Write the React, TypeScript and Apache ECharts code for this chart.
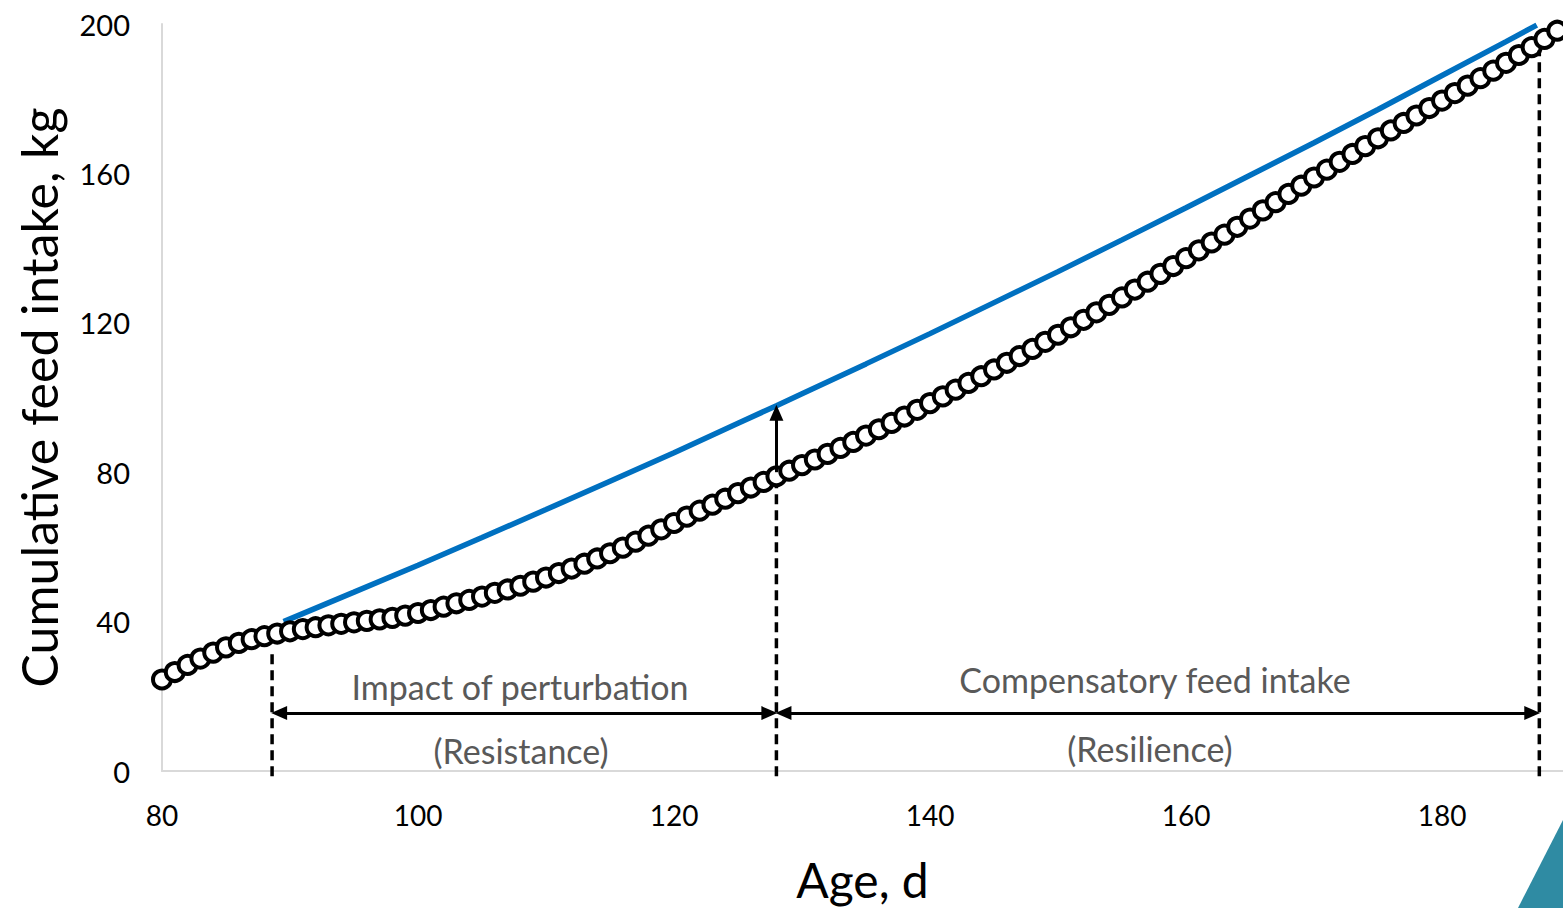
import React, { useEffect, useRef } from "react";
import * as echarts from "echarts";

// Age (days) of each observed cumulative feed intake record
const ages = [
  80, 81, 82, 83, 84, 85, 86, 87, 88, 89, 90, 91, 92, 93, 94, 95, 96, 97, 98, 99,
  100, 101, 102, 103, 104, 105, 106, 107, 108, 109, 110, 111, 112, 113, 114, 115, 116, 117, 118, 119,
  120, 121, 122, 123, 124, 125, 126, 127, 128, 129, 130, 131, 132, 133, 134, 135, 136, 137, 138, 139,
  140, 141, 142, 143, 144, 145, 146, 147, 148, 149, 150, 151, 152, 153, 154, 155, 156, 157, 158, 159,
  160, 161, 162, 163, 164, 165, 166, 167, 168, 169, 170, 171, 172, 173, 174, 175, 176, 177, 178, 179,
  180, 181, 182, 183, 184, 185, 186, 187, 188, 189,
];

// Observed cumulative feed intake, kg
const observedIntake = [
  24.5, 26.5, 28.4, 30.1, 31.7, 33.1, 34.3, 35.3, 36.1, 36.8, 37.4, 38.0, 38.5, 39.0, 39.4, 39.8, 40.2, 40.6, 41.0, 41.6,
  42.3, 43.1, 44.0, 44.9, 45.8, 46.7, 47.7, 48.6, 49.6, 50.7, 51.8, 53.0, 54.2, 55.5, 56.9, 58.3, 59.8, 61.4, 63.0, 64.7,
  66.4, 68.1, 69.7, 71.3, 72.9, 74.4, 75.9, 77.4, 78.9, 80.4, 81.9, 83.4, 84.9, 86.5, 88.1, 89.8, 91.5, 93.2, 94.9, 96.7,
  98.5, 100.3, 102.1, 103.9, 105.7, 107.5, 109.3, 111.1, 113.0, 114.9, 116.8, 118.8, 120.8, 122.8, 124.8, 126.8, 128.9, 131.0, 133.1, 135.2,
  137.3, 139.4, 141.5, 143.6, 145.7, 147.9, 150.1, 152.3, 154.5, 156.7, 158.9, 161.0, 163.1, 165.2, 167.3, 169.4, 171.5, 173.5, 175.5, 177.5,
  179.5, 181.5, 183.5, 185.5, 187.5, 189.6, 191.7, 193.8, 196.0, 198.2,
];

// Expected (unperturbed) cumulative feed intake curve
const expectedAges = [89.5, 95, 100, 105, 110, 115, 120, 125, 128, 130, 135, 140, 145, 150, 155, 160, 165, 170, 175, 180, 185, 187.4];
const expectedIntake = [40, 47.9, 55.1, 62.5, 70.0, 77.6, 85.2, 93.1, 97.8, 101.0, 109.0, 117.1, 125.4, 133.7, 142.2, 150.8, 159.5, 168.2, 177.1, 186.2, 195.3, 199.7];

// Phase boundaries (age, d): start of perturbation, end of perturbation, end of recovery
const phaseBounds = [88.6, 128, 187.6];
// Observed intake where the dashed boundary lines start
const boundTops = [32, 77, 193];
const boundBottom = -1.4;
const arrowLevel = 15.5;
const deviationAge = 128;
const deviationFrom = 80;
const deviationTo = 97.8;

const xTickValues = [80, 100, 120, 140, 160, 180];
const phaseTexts = ["Impact of perturbation", "(Resistance)", "Compensatory feed intake", "(Resilience)"];

const FONT = "Lato, 'Open Sans', sans-serif";

export default function App() {
  const ref = useRef<HTMLDivElement>(null);

  useEffect(() => {
    if (!ref.current) return;
    const chart = echarts.init(ref.current, undefined, { renderer: "svg" });

    const arrowStyle = { type: "solid" as any, color: "#000", width: 3 };
    const tipX = 0.55; // arrow tip half-length in days
    const tipY = 1.9; // arrow tip half-length in kg

    const markData: any[] = [
      [
        { coord: [phaseBounds[0] + tipX, arrowLevel], symbol: "triangle", lineStyle: arrowStyle },
        { coord: [phaseBounds[1] - tipX, arrowLevel], symbol: "triangle" },
      ],
      [
        { coord: [phaseBounds[1] + tipX, arrowLevel], symbol: "triangle", lineStyle: arrowStyle },
        { coord: [phaseBounds[2] - tipX, arrowLevel], symbol: "triangle" },
      ],
      [
        { coord: [deviationAge, deviationFrom], symbol: "none", lineStyle: arrowStyle },
        { coord: [deviationAge, deviationTo - tipY], symbol: "triangle" },
      ],
    ];

    const dashedSeries = phaseBounds.map((b, i) => ({
      name: "bound" + i,
      type: "line",
      data: [
        [b, boundBottom],
        [b, boundTops[i]],
      ],
      symbol: "none",
      showSymbol: false,
      clip: false,
      silent: true,
      lineStyle: { type: [10, 6], color: "#000", width: 3.5 },
      z: 4,
    }));

    chart.setOption({
      animation: false,
      backgroundColor: "#fff",
      textStyle: { fontFamily: FONT },
      grid: { left: 162, top: 24, right: 0, bottom: 135, containLabel: false },
      xAxis: {
        type: "value",
        min: 80,
        max: 189.45,
        interval: 20,
        axisLine: { show: true, lineStyle: { color: "#d9d9d9", width: 2 } },
        axisTick: { show: false },
        splitLine: { show: false },
        axisLabel: {
          fontSize: 28,
          color: "#000",
          margin: 30,
          fontFamily: FONT,
          showMaxLabel: false,
          formatter: (v: number) => (xTickValues.indexOf(v) >= 0 ? String(v) : ""),
        },
        name: "Age, d",
        nameLocation: "middle",
        nameGap: 84,
        nameTextStyle: { fontSize: 48, color: "#000", fontFamily: FONT },
      },
      yAxis: {
        type: "value",
        min: 0,
        max: 200,
        interval: 40,
        axisLine: { show: true, lineStyle: { color: "#d9d9d9", width: 2 } },
        axisTick: { show: false },
        splitLine: { show: false },
        axisLabel: { fontSize: 29, color: "#000", margin: 32, fontFamily: FONT },
        name: "Cumulative feed intake, kg",
        nameLocation: "middle",
        nameGap: 98,
        nameTextStyle: { fontSize: 50, color: "#000", fontFamily: FONT },
      },
      series: [
        {
          name: "Expected",
          type: "line",
          data: expectedAges.map((a, i) => [a, expectedIntake[i]]),
          showSymbol: false,
          symbol: "none",
          lineStyle: { color: "#0070C0", width: 5.5 },
          z: 2,
        },
        {
          name: "Observed",
          type: "scatter",
          data: ages.map((a, i) => [a, observedIntake[i]]),
          symbol: "circle",
          symbolSize: 18,
          itemStyle: { color: "#fff", borderColor: "#000", borderWidth: 4, opacity: 1 },
          z: 3,
        },
        ...dashedSeries,
        {
          name: "annotations",
          type: "line",
          data: [],
          z: 5,
          markLine: {
            silent: true,
            animation: false,
            symbolSize: [14, 16],
            label: { show: false },
            lineStyle: { color: "#000", width: 3 },
            data: markData,
          },
        },
      ],
      graphic: [
        {
          type: "text",
          x: 520,
          y: 686,
          style: { text: phaseTexts[0], textAlign: "center", textVerticalAlign: "middle", fontSize: 34, fontFamily: FONT, fill: "#595959" },
        },
        {
          type: "text",
          x: 521,
          y: 750,
          style: { text: phaseTexts[1], textAlign: "center", textVerticalAlign: "middle", fontSize: 34, fontFamily: FONT, fill: "#595959" },
        },
        {
          type: "text",
          x: 1155,
          y: 679,
          style: { text: phaseTexts[2], textAlign: "center", textVerticalAlign: "middle", fontSize: 34, fontFamily: FONT, fill: "#595959" },
        },
        {
          type: "text",
          x: 1150,
          y: 748,
          style: { text: phaseTexts[3], textAlign: "center", textVerticalAlign: "middle", fontSize: 34, fontFamily: FONT, fill: "#595959" },
        },
        {
          type: "polygon",
          shape: { points: [[1563, 820], [1563, 908], [1518, 908]] },
          style: { fill: "#2F8BA3" },
        },
      ],
    });

    return () => chart.dispose();
  }, []);

  return (
    <div
      ref={ref}
      style={{ position: "fixed", left: 0, top: 0, width: 1563, height: 908, background: "#fff" }}
    />
  );
}
